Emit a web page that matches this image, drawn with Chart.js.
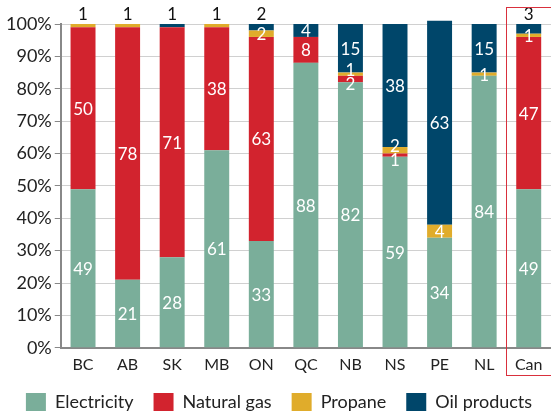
<!DOCTYPE html>
<html>
<head>
<meta charset="utf-8">
<script src="https://cdn.jsdelivr.net/npm/chart.js@4/dist/chart.umd.min.js"></script>
<style>
  html,body{margin:0;padding:0;background:#fff;}
  #wrap{width:551px;height:413px;position:relative;}
</style>
</head>
<body>
<div id="wrap"><canvas id="graph"></canvas></div>
<script>
var provinces = ["BC","AB","SK","MB","ON","QC","NB","NS","PE","NL","Can"];
var electricity = [49,21,28,61,33,88,82,59,34,84,49];
var naturalGas  = [50,78,71,38,63,8,2,1,0,0,47];
var propane     = [1,1,0,1,2,0,1,2,4,1,1];
var oilProducts = [0,0,1,0,2,4,15,38,63,15,3];
var yTicks = [0,10,20,30,40,50,60,70,80,90,100];

var colors = ["#7aae9a","#d2232e","#e0ac2b","#00466a"];
var font = "Lato";

// etiquettes des valeurs : dans le segment en blanc, au dessus en noir si petit segment du haut
var valueLabels = {
	id:'valueLabels',
	afterDatasetsDraw: function(chart){
		var ctx = chart.ctx;
		var sets = chart.data.datasets;
		ctx.save();
		ctx.font = "17px "+font;
		ctx.textAlign = "center";
		ctx.textBaseline = "middle";
		for(var i=0;i<provinces.length;i++){
			var top = -1;
			for(var d=0;d<sets.length;d++) if(sets[d].data[i]>0) top = d;
			var inside = [];
			for(var d=0;d<sets.length;d++){
				var v = sets[d].data[i];
				if(!v) continue;
				var bar = chart.getDatasetMeta(d).data[i];
				if(d==top && v<=3){
					ctx.fillStyle = "#111";
					ctx.fillText(v, bar.x, bar.y-9);
				}else{
					inside.push({v:v, x:bar.x, y:(bar.y+bar.base)/2+1});
				}
			}
			// on ecarte les etiquettes trop proches
			for(var n=1;n<inside.length;n++){
				var a = inside[n-1], b = inside[n];
				var gap = a.y-b.y;
				if(gap<14){
					var push = (14-gap)/2;
					a.y += push; b.y -= push;
				}
			}
			ctx.fillStyle = "#fff";
			for(var n=0;n<inside.length;n++) ctx.fillText(inside[n].v, inside[n].x, inside[n].y);
		}
		ctx.restore();
	}
};

// cadre rouge autour de Canada
var canBox = {
	id:'canBox',
	afterDraw: function(chart){
		var x = chart.scales.x;
		var idx = provinces.indexOf("Can");
		var cx = x.getPixelForValue(idx);
		var half = (x.getPixelForValue(1)-x.getPixelForValue(0))/2;
		var left = Math.round(cx-half);
		var ctx = chart.ctx;
		ctx.save();
		ctx.strokeStyle = "#d9303d";
		ctx.lineWidth = 1;
		ctx.strokeRect(left+0.5, 7.5, chart.width-left+10, 368);
		ctx.restore();
	}
};

var series = [
	{label:"Electricity", data:electricity},
	{label:"Natural gas", data:naturalGas},
	{label:"Propane", data:propane},
	{label:"Oil products", data:oilProducts}
];

var datasets = [];
for(var k in series){
	datasets.push({
		label: series[k].label,
		data: series[k].data,
		backgroundColor: colors[k],
		barPercentage: 0.56,
		categoryPercentage: 1,
		clip: false
	});
}

new Chart(document.getElementById("graph").getContext("2d"), {
	type:'bar',
	data:{labels:provinces, datasets:datasets},
	plugins:[valueLabels, canBox],
	options:{
		responsive:true,
		maintainAspectRatio:false,
		animation:false,
		layout:{padding:{top:24,right:-4,left:3,bottom:-8}},
		scales:{
			x:{
				stacked:true,
				grid:{display:false},
				border:{color:"#888",width:2},
				ticks:{color:"#222",font:{family:font,size:16},padding:-1}
			},
			y:{
				stacked:true,
				min:0,max:100,
				afterBuildTicks:function(axis){ axis.ticks = yTicks.map(function(v){return {value:v};}); },
				grid:{color:"#d0d0d0",tickLength:6,tickColor:"#888"},
				border:{color:"#888",width:2},
				ticks:{color:"#222",font:{family:font,size:18},padding:3,callback:function(v){return v+"%";}}
			}
		},
		plugins:{
			legend:{
				position:'bottom',
				labels:{boxWidth:20,boxHeight:18,padding:20,color:"#222",font:{family:font,size:18}}
			},
			tooltip:{enabled:false}
		}
	}
});
</script>
</body>
</html>
